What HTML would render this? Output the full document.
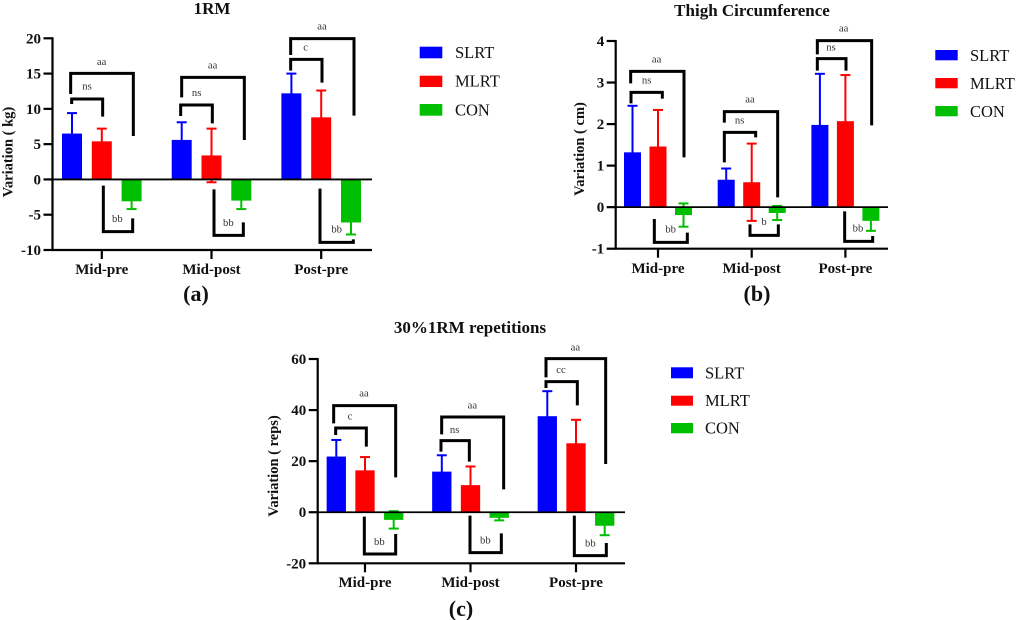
<!DOCTYPE html>
<html lang="en">
<head>
<meta charset="utf-8">
<title>Variation charts</title>
<style>
html,body{margin:0;padding:0;background:#fff;width:1017px;height:620px;overflow:hidden}
svg{display:block;position:absolute;left:0;top:0;filter:blur(0.35px)}
text{font-family:"Liberation Serif","Noto Serif CJK SC",serif;fill:#111}
.title{font-weight:bold;font-size:17px;text-anchor:middle}
.tick{font-weight:bold;font-size:15px;text-anchor:end}
.cat{font-weight:bold;font-size:15px;text-anchor:middle}
.ytitle{font-weight:bold;font-size:14.5px;text-anchor:middle;white-space:pre}
.letter{font-weight:bold;font-size:22px;text-anchor:middle}
.leg{font-size:16.5px}
.br{fill:none;stroke:#000;stroke-width:9;stroke-linejoin:miter}
.an{font-size:32px;text-anchor:middle;fill:#333}
</style>
</head>
<body>
<svg id="chart" width="1017" height="620" viewBox="0 0 1017 620" xmlns="http://www.w3.org/2000/svg">
  <rect width="1017" height="620" fill="#fff"/>

  <g id="panel-a">
    <text class="title" x="212" y="14">1RM</text>
    <text class="ytitle" transform="translate(12.5 152) rotate(-90)">Variation ( kg)</text>
    <text class="letter" x="196" y="301">(a)</text>
  </g>
  <g transform="scale(0.33333)">
    <polyline class="br" points="212,282 212,220 400,220 400,408"/>
    <text class="an" x="305" y="195">aa</text>
    <polyline class="br" points="215,312 215,297 308,297 308,350"/>
    <text class="an" x="261" y="268">ns</text>
    <polyline class="br" points="310,557 310,695 398,695 398,655"/>
    <text class="an" x="352" y="666">bb</text>
    <polyline class="br" points="545,292 545,232 733,232 733,420"/>
    <text class="an" x="638" y="205">aa</text>
    <polyline class="br" points="542,348 542,315 637,315 637,370"/>
    <text class="an" x="590" y="288">ns</text>
    <polyline class="br" points="642,568 642,706 730,706 730,667"/>
    <text class="an" x="685" y="678">bb</text>
    <polyline class="br" points="872,165 872,116 1062,116 1062,347"/>
    <text class="an" x="966" y="88">aa</text>
    <polyline class="br" points="872,212 872,178 966,178 966,248"/>
    <text class="an" x="917" y="151">c</text>
    <polyline class="br" points="960,566 960,727 1060,727 1060,718"/>
    <text class="an" x="1010" y="698">bb</text>
  </g>
  <g>
    <rect x="419.7" y="46.7" width="22.6" height="11.6" fill="#0000ff"/>
    <text class="leg" x="455" y="58">SLRT</text>
    <rect x="419.7" y="75.7" width="22.6" height="11.3" fill="#ff0000"/>
    <text class="leg" x="455" y="86.7">MLRT</text>
    <rect x="419.7" y="104" width="22.6" height="11.7" fill="#00bf00"/>
    <text class="leg" x="455" y="115.6">CON</text>
  </g>

  <g id="panel-b">
    <text class="title" x="752" y="16">Thigh Circumference</text>
    <text class="ytitle" transform="translate(584 149) rotate(-90)">Variation ( cm)</text>
    <text class="letter" x="757" y="301">(b)</text>
  </g>
  <g transform="translate(560 0) scale(0.33333)">
    <polyline class="br" points="212,250 212,214 372,214 372,472"/>
    <text class="an" x="290" y="188">aa</text>
    <polyline class="br" points="213,310 213,277 307,277 307,296"/>
    <text class="an" x="260" y="251">ns</text>
    <polyline class="br" points="283,657 283,727 382,727 382,698"/>
    <text class="an" x="332" y="698">bb</text>
    <polyline class="br" points="493,368 493,335 653,335 653,592"/>
    <text class="an" x="570" y="308">aa</text>
    <polyline class="br" points="493,487 493,397 587,397 587,412"/>
    <text class="an" x="539" y="370">ns</text>
    <polyline class="br" points="570,673 570,706 655,706 655,673"/>
    <text class="an" x="612" y="675">b</text>
    <polyline class="br" points="772,163 772,122 935,122 935,376"/>
    <text class="an" x="851" y="95">aa</text>
    <polyline class="br" points="772,212 772,176 858,176 858,212"/>
    <text class="an" x="813" y="151">ns</text>
    <polyline class="br" points="854,634 854,724 938,724 938,708"/>
    <text class="an" x="894" y="695">bb</text>
  </g>
  <g>
    <rect x="935.3" y="50" width="22.4" height="10.3" fill="#0000ff"/>
    <text class="leg" x="970" y="61">SLRT</text>
    <rect x="935.3" y="78" width="22.4" height="10.3" fill="#ff0000"/>
    <text class="leg" x="970" y="89">MLRT</text>
    <rect x="935.3" y="106" width="22.4" height="10.3" fill="#00bf00"/>
    <text class="leg" x="970" y="117">CON</text>
  </g>

  <g id="panel-c">
    <text class="title" x="470" y="333">30%1RM repetitions</text>
    <text class="ytitle" transform="translate(278 466) rotate(-90)">Variation ( reps)</text>
    <text class="letter" x="461" y="616">(c)</text>
  </g>
  <g transform="translate(250 320) scale(0.33333)">
    <polyline class="br" points="251,310 251,257 437,257 437,472"/>
    <text class="an" x="342" y="230">aa</text>
    <polyline class="br" points="257,345 257,324 349,324 349,380"/>
    <text class="an" x="300" y="299">c</text>
    <polyline class="br" points="343,590 343,702 437,702 437,642"/>
    <text class="an" x="388" y="675">bb</text>
    <polyline class="br" points="575,343 575,291 761,291 761,508"/>
    <text class="an" x="667" y="265">aa</text>
    <polyline class="br" points="573,395 573,362 658,362 658,425"/>
    <text class="an" x="614" y="339">ns</text>
    <polyline class="br" points="660,587 660,698 754,698 754,640"/>
    <text class="an" x="706" y="670">bb</text>
    <polyline class="br" points="888,172 888,116 1067,116 1067,432"/>
    <text class="an" x="976" y="91">aa</text>
    <polyline class="br" points="888,204 888,185 982,185 982,256"/>
    <text class="an" x="933" y="159">cc</text>
    <polyline class="br" points="973,587 973,707 1069,707 1069,669"/>
    <text class="an" x="1021" y="679">bb</text>
  </g>
  <g>
    <rect x="671" y="367.3" width="22" height="11" fill="#0000ff"/>
    <text class="leg" x="705" y="378.3">SLRT</text>
    <rect x="671" y="395.7" width="22" height="10" fill="#ff0000"/>
    <text class="leg" x="705" y="406">MLRT</text>
    <rect x="671" y="423" width="22" height="10.3" fill="#00bf00"/>
    <text class="leg" x="705" y="433.3">CON</text>
  </g>
</svg>
<script>
const categories = ['Mid-pre', 'Mid-post', 'Post-pre'];
const seriesNames = ['SLRT', 'MLRT', 'CON'];

const aTicks = [20, 15, 10, 5, 0, -5, -10];
const aSlrt = [6.5, 5.6, 12.2];
const aMlrt = [5.4, 3.4, 8.8];
const aCon = [-3.1, -3.0, -6.1];
const aSlrtErr = [2.9, 2.5, 2.8];
const aMlrtErr = [1.8, 3.8, 3.8];
const aConErr = [1.1, 1.2, 1.7];

const bTicks = [4, 3, 2, 1, 0, -1];
const bSlrt = [1.32, 0.66, 1.98];
const bMlrt = [1.46, 0.60, 2.07];
const bCon = [-0.19, -0.14, -0.33];
const bSlrtErr = [1.12, 0.27, 1.23];
const bMlrtErr = [0.88, 0.93, 1.11];
const bConErr = [0.28, 0.17, 0.24];

const cTicks = [60, 40, 20, 0, -20];
const cSlrt = [21.8, 15.9, 37.6];
const cMlrt = [16.4, 10.6, 27.0];
const cCon = [-3.0, -2.2, -5.3];
const cSlrtErr = [6.5, 6.4, 9.8];
const cMlrtErr = [5.2, 7.3, 9.2];
const cConErr = [3.4, 1.0, 3.7];

const NS = 'http://www.w3.org/2000/svg';
const colors = ['#0000ff', '#ff0000', '#00bf00'];

function make(tag, attrs, parent) {
  const el = document.createElementNS(NS, tag);
  for (const k in attrs) el.setAttribute(k, attrs[k]);
  parent.appendChild(el);
  return el;
}

function drawPanel(id, prefix, geo, ticks, values, errors) {
  const host = document.getElementById(id);
  const g = make('g', {}, host);
  
  
  const yMax = ticks[0], yMin = ticks[ticks.length - 1];
  const y = v => geo.top + (yMax - v) * (geo.bottom - geo.top) / (yMax - yMin);
  const x = (c, s) => geo.first + c * geo.step + (s - 1) * geo.offset;

  categories.forEach((cat, c) => {
    seriesNames.forEach((name, s) => {
      const v = values[s][c], e = errors[s][c];
      const cx = x(c, s);
      const bar = make('rect', {
        x: cx - geo.barW / 2, y: Math.min(y(v), y(0)),
        width: geo.barW, height: Math.abs(y(v) - y(0)), fill: colors[s]
      }, g);
      
      
      const stem = make('line', {
        x1: cx, x2: cx, y1: y(v + e), y2: y(v - e),
        stroke: colors[s], 'stroke-width': 2
      }, g);
      
      
      [v + e, v - e].forEach(end => {
        const cap = make('line', {
          x1: cx - 5, x2: cx + 5, y1: y(end), y2: y(end),
          stroke: colors[s], 'stroke-width': 2
        }, g);
        
        
      });
    });
    const tx = geo.first + c * geo.step;
    const xt = make('line', {
      x1: tx, x2: tx, y1: geo.bottom, y2: geo.bottom + 9,
      stroke: '#000', 'stroke-width': 2.2
    }, g);
    
    
    const lbl = make('text', { x: tx, y: geo.catY, class: 'cat' }, g);
    
    
    lbl.textContent = cat;
  });

  ticks.forEach(t => {
    const yt = make('line', {
      x1: geo.axisX - 9, x2: geo.axisX, y1: y(t), y2: y(t),
      stroke: '#000', 'stroke-width': 2.2
    }, g);
    
    
    const lbl = make('text', { x: geo.axisX - 11.5, y: y(t) + 5, class: 'tick' }, g);
    
    
    lbl.textContent = t;
  });

  const yAxis = make('line', {
    x1: geo.axisX, x2: geo.axisX, y1: y(yMax) - 1, y2: y(yMin) + 1,
    stroke: '#000', 'stroke-width': 2.2
  }, g);
  
  
  const xAxis = make('line', {
    x1: geo.axisX, x2: geo.right, y1: y(yMin), y2: y(yMin),
    stroke: '#000', 'stroke-width': 2.2
  }, g);
  
  
  const zero = make('line', {
    x1: geo.axisX, x2: geo.right, y1: y(0), y2: y(0),
    stroke: '#000', 'stroke-width': 1.8
  }, g);
  
  
}

drawPanel('panel-a', 'panel-a',
  { axisX: 52.5, right: 372, top: 38.3, bottom: 250, first: 101.8, step: 109.7, offset: 29.8, barW: 20, catY: 274 },
  aTicks, [aSlrt, aMlrt, aCon], [aSlrtErr, aMlrtErr, aConErr]);
drawPanel('panel-b', 'panel-b',
  { axisX: 615.7, right: 888, top: 41, bottom: 248.7, first: 658, step: 93.7, offset: 25.5, barW: 17, catY: 273 },
  bTicks, [bSlrt, bMlrt, bCon], [bSlrtErr, bMlrtErr, bConErr]);
drawPanel('panel-c', 'panel-c',
  { axisX: 317.7, right: 625, top: 359, bottom: 563.3, first: 365, step: 105.5, offset: 28.7, barW: 19.3, catY: 587 },
  cTicks, [cSlrt, cMlrt, cCon], [cSlrtErr, cMlrtErr, cConErr]);
</script>
</body>
</html>
